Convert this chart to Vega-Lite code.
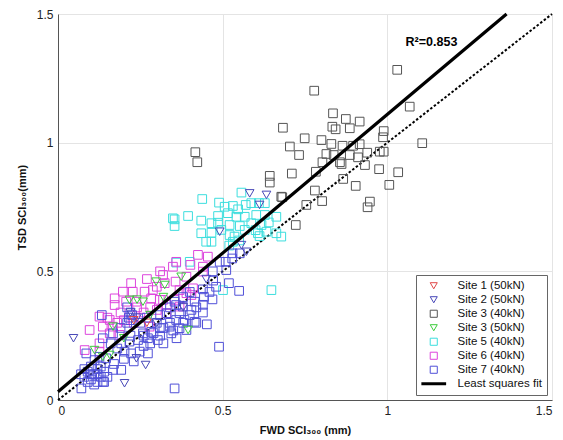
{
  "$schema": "https://vega.github.io/schema/vega-lite/v6.json",
  "width": 494,
  "height": 386,
  "autosize": "none",
  "padding": {"left": 58, "top": 14, "right": 11, "bottom": 40},
  "background": "white",
  "config": {
    "font": "Liberation Sans",
    "view": {"stroke": null},
    "axis": {"grid": true, "gridColor": "#e4e4e4", "gridWidth": 1, "domainColor": "#555555", "ticks": false, "labelFontSize": 12, "labelColor": "#222222", "labelPadding": 5, "titleFontSize": 11, "titleFontWeight": "bold", "titleColor": "#111111"},
    "legend": {"orient": "bottom-right", "offset": 5, "fillColor": "white", "strokeColor": "#666666", "padding": 5, "labelFontSize": 11.5, "labelColor": "#111111", "rowPadding": 1, "symbolSize": 50, "symbolStrokeWidth": 1, "symbolOffset": 7, "labelOffset": 18}
  },
  "datasets": {
    "pts": [
      {"site": "Site 3 (40kN)", "x": 1.030, "y": 1.283}, {"site": "Site 3 (40kN)", "x": 0.778, "y": 1.202}, {"site": "Site 3 (40kN)", "x": 1.068, "y": 1.140}, {"site": "Site 3 (40kN)", "x": 0.835, "y": 1.114}, {"site": "Site 3 (40kN)", "x": 0.874, "y": 1.092}, {"site": "Site 3 (40kN)", "x": 0.916, "y": 1.082}, {"site": "Site 3 (40kN)", "x": 0.683, "y": 1.058}, {"site": "Site 3 (40kN)", "x": 0.833, "y": 1.062}, {"site": "Site 3 (40kN)", "x": 0.843, "y": 1.052}, {"site": "Site 3 (40kN)", "x": 0.886, "y": 1.056}, {"site": "Site 3 (40kN)", "x": 0.989, "y": 1.045}, {"site": "Site 3 (40kN)", "x": 0.987, "y": 1.021}, {"site": "Site 3 (40kN)", "x": 0.749, "y": 1.017}, {"site": "Site 3 (40kN)", "x": 0.800, "y": 1.010}, {"site": "Site 3 (40kN)", "x": 0.830, "y": 0.995}, {"site": "Site 3 (40kN)", "x": 0.864, "y": 0.988}, {"site": "Site 3 (40kN)", "x": 0.896, "y": 0.988}, {"site": "Site 3 (40kN)", "x": 0.916, "y": 0.994}, {"site": "Site 3 (40kN)", "x": 1.106, "y": 0.998}, {"site": "Site 3 (40kN)", "x": 0.704, "y": 0.985}, {"site": "Site 3 (40kN)", "x": 0.732, "y": 0.952}, {"site": "Site 3 (40kN)", "x": 0.815, "y": 0.956}, {"site": "Site 3 (40kN)", "x": 0.837, "y": 0.952}, {"site": "Site 3 (40kN)", "x": 0.886, "y": 0.952}, {"site": "Site 3 (40kN)", "x": 0.911, "y": 0.943}, {"site": "Site 3 (40kN)", "x": 0.939, "y": 0.961}, {"site": "Site 3 (40kN)", "x": 0.977, "y": 0.965}, {"site": "Site 3 (40kN)", "x": 0.989, "y": 0.965}, {"site": "Site 3 (40kN)", "x": 0.803, "y": 0.924}, {"site": "Site 3 (40kN)", "x": 0.856, "y": 0.924}, {"site": "Site 3 (40kN)", "x": 0.861, "y": 0.917}, {"site": "Site 3 (40kN)", "x": 0.932, "y": 0.913}, {"site": "Site 3 (40kN)", "x": 0.783, "y": 0.887}, {"site": "Site 3 (40kN)", "x": 0.975, "y": 0.897}, {"site": "Site 3 (40kN)", "x": 1.033, "y": 0.885}, {"site": "Site 3 (40kN)", "x": 0.710, "y": 0.880}, {"site": "Site 3 (40kN)", "x": 0.866, "y": 0.859}, {"site": "Site 3 (40kN)", "x": 0.904, "y": 0.832}, {"site": "Site 3 (40kN)", "x": 1.006, "y": 0.836}, {"site": "Site 3 (40kN)", "x": 0.780, "y": 0.814}, {"site": "Site 3 (40kN)", "x": 0.802, "y": 0.773}, {"site": "Site 3 (40kN)", "x": 0.947, "y": 0.771}, {"site": "Site 3 (40kN)", "x": 0.940, "y": 0.749}, {"site": "Site 3 (40kN)", "x": 0.754, "y": 0.758}, {"site": "Site 3 (40kN)", "x": 0.678, "y": 0.790}, {"site": "Site 3 (40kN)", "x": 0.417, "y": 0.963}, {"site": "Site 3 (40kN)", "x": 0.423, "y": 0.924}, {"site": "Site 3 (40kN)", "x": 0.643, "y": 0.871}, {"site": "Site 3 (40kN)", "x": 0.643, "y": 0.845}, {"site": "Site 3 (40kN)", "x": 0.681, "y": 0.788}, {"site": "Site 3 (40kN)", "x": 0.722, "y": 0.680},

      {"site": "Site 5 (40kN)", "x": 0.438, "y": 0.781}, {"site": "Site 5 (40kN)", "x": 0.557, "y": 0.806}, {"site": "Site 5 (40kN)", "x": 0.489, "y": 0.767}, {"site": "Site 5 (40kN)", "x": 0.506, "y": 0.751}, {"site": "Site 5 (40kN)", "x": 0.531, "y": 0.754}, {"site": "Site 5 (40kN)", "x": 0.547, "y": 0.741}, {"site": "Site 5 (40kN)", "x": 0.570, "y": 0.758}, {"site": "Site 5 (40kN)", "x": 0.587, "y": 0.765}, {"site": "Site 5 (40kN)", "x": 0.610, "y": 0.765}, {"site": "Site 5 (40kN)", "x": 0.628, "y": 0.765}, {"site": "Site 5 (40kN)", "x": 0.395, "y": 0.715}, {"site": "Site 5 (40kN)", "x": 0.354, "y": 0.702}, {"site": "Site 5 (40kN)", "x": 0.354, "y": 0.676}, {"site": "Site 5 (40kN)", "x": 0.435, "y": 0.697}, {"site": "Site 5 (40kN)", "x": 0.466, "y": 0.687}, {"site": "Site 5 (40kN)", "x": 0.486, "y": 0.715}, {"site": "Site 5 (40kN)", "x": 0.516, "y": 0.726}, {"site": "Site 5 (40kN)", "x": 0.542, "y": 0.712}, {"site": "Site 5 (40kN)", "x": 0.567, "y": 0.712}, {"site": "Site 5 (40kN)", "x": 0.602, "y": 0.719}, {"site": "Site 5 (40kN)", "x": 0.628, "y": 0.719}, {"site": "Site 5 (40kN)", "x": 0.663, "y": 0.712}, {"site": "Site 5 (40kN)", "x": 0.486, "y": 0.689}, {"site": "Site 5 (40kN)", "x": 0.521, "y": 0.680}, {"site": "Site 5 (40kN)", "x": 0.552, "y": 0.676}, {"site": "Site 5 (40kN)", "x": 0.587, "y": 0.687}, {"site": "Site 5 (40kN)", "x": 0.618, "y": 0.680}, {"site": "Site 5 (40kN)", "x": 0.435, "y": 0.648}, {"site": "Site 5 (40kN)", "x": 0.466, "y": 0.650}, {"site": "Site 5 (40kN)", "x": 0.496, "y": 0.661}, {"site": "Site 5 (40kN)", "x": 0.521, "y": 0.641}, {"site": "Site 5 (40kN)", "x": 0.567, "y": 0.661}, {"site": "Site 5 (40kN)", "x": 0.607, "y": 0.648}, {"site": "Site 5 (40kN)", "x": 0.633, "y": 0.654}, {"site": "Site 5 (40kN)", "x": 0.663, "y": 0.648}, {"site": "Site 5 (40kN)", "x": 0.678, "y": 0.635}, {"site": "Site 5 (40kN)", "x": 0.450, "y": 0.615}, {"site": "Site 5 (40kN)", "x": 0.466, "y": 0.615}, {"site": "Site 5 (40kN)", "x": 0.536, "y": 0.635}, {"site": "Site 5 (40kN)", "x": 0.612, "y": 0.637}, {"site": "Site 5 (40kN)", "x": 0.359, "y": 0.534}, {"site": "Site 5 (40kN)", "x": 0.400, "y": 0.537}, {"site": "Site 5 (40kN)", "x": 0.501, "y": 0.427}, {"site": "Site 5 (40kN)", "x": 0.648, "y": 0.427}, {"site": "Site 5 (40kN)", "x": 0.531, "y": 0.615}, {"site": "Site 5 (40kN)", "x": 0.349, "y": 0.706}, {"site": "Site 5 (40kN)", "x": 0.520, "y": 0.600}, {"site": "Site 5 (40kN)", "x": 0.550, "y": 0.620}, {"site": "Site 5 (40kN)", "x": 0.600, "y": 0.660}, {"site": "Site 5 (40kN)", "x": 0.640, "y": 0.690},

      {"site": "Site 6 (40kN)", "x": 0.425, "y": 0.564}, {"site": "Site 6 (40kN)", "x": 0.455, "y": 0.557}, {"site": "Site 6 (40kN)", "x": 0.359, "y": 0.537}, {"site": "Site 6 (40kN)", "x": 0.402, "y": 0.525}, {"site": "Site 6 (40kN)", "x": 0.349, "y": 0.518}, {"site": "Site 6 (40kN)", "x": 0.440, "y": 0.518}, {"site": "Site 6 (40kN)", "x": 0.440, "y": 0.499}, {"site": "Site 6 (40kN)", "x": 0.319, "y": 0.486}, {"site": "Site 6 (40kN)", "x": 0.357, "y": 0.460}, {"site": "Site 6 (40kN)", "x": 0.390, "y": 0.479}, {"site": "Site 6 (40kN)", "x": 0.324, "y": 0.454}, {"site": "Site 6 (40kN)", "x": 0.222, "y": 0.454}, {"site": "Site 6 (40kN)", "x": 0.227, "y": 0.421}, {"site": "Site 6 (40kN)", "x": 0.197, "y": 0.421}, {"site": "Site 6 (40kN)", "x": 0.263, "y": 0.421}, {"site": "Site 6 (40kN)", "x": 0.288, "y": 0.427}, {"site": "Site 6 (40kN)", "x": 0.369, "y": 0.427}, {"site": "Site 6 (40kN)", "x": 0.390, "y": 0.415}, {"site": "Site 6 (40kN)", "x": 0.410, "y": 0.434}, {"site": "Site 6 (40kN)", "x": 0.207, "y": 0.382}, {"site": "Site 6 (40kN)", "x": 0.238, "y": 0.382}, {"site": "Site 6 (40kN)", "x": 0.283, "y": 0.395}, {"site": "Site 6 (40kN)", "x": 0.319, "y": 0.389}, {"site": "Site 6 (40kN)", "x": 0.354, "y": 0.389}, {"site": "Site 6 (40kN)", "x": 0.172, "y": 0.395}, {"site": "Site 6 (40kN)", "x": 0.172, "y": 0.369}, {"site": "Site 6 (40kN)", "x": 0.136, "y": 0.285}, {"site": "Site 6 (40kN)", "x": 0.167, "y": 0.285}, {"site": "Site 6 (40kN)", "x": 0.157, "y": 0.259}, {"site": "Site 6 (40kN)", "x": 0.187, "y": 0.253}, {"site": "Site 6 (40kN)", "x": 0.081, "y": 0.194}, {"site": "Site 6 (40kN)", "x": 0.126, "y": 0.220}, {"site": "Site 6 (40kN)", "x": 0.126, "y": 0.188}, {"site": "Site 6 (40kN)", "x": 0.190, "y": 0.340}, {"site": "Site 6 (40kN)", "x": 0.240, "y": 0.360}, {"site": "Site 6 (40kN)", "x": 0.260, "y": 0.340}, {"site": "Site 6 (40kN)", "x": 0.200, "y": 0.310}, {"site": "Site 6 (40kN)", "x": 0.230, "y": 0.300}, {"site": "Site 6 (40kN)", "x": 0.280, "y": 0.360}, {"site": "Site 6 (40kN)", "x": 0.300, "y": 0.350}, {"site": "Site 6 (40kN)", "x": 0.330, "y": 0.370}, {"site": "Site 6 (40kN)", "x": 0.150, "y": 0.320}, {"site": "Site 6 (40kN)", "x": 0.180, "y": 0.300}, {"site": "Site 6 (40kN)", "x": 0.250, "y": 0.320}, {"site": "Site 6 (40kN)", "x": 0.126, "y": 0.324}, {"site": "Site 6 (40kN)", "x": 0.157, "y": 0.311}, {"site": "Site 6 (40kN)", "x": 0.278, "y": 0.285}, {"site": "Site 6 (40kN)", "x": 0.329, "y": 0.337}, {"site": "Site 6 (40kN)", "x": 0.369, "y": 0.363}, {"site": "Site 6 (40kN)", "x": 0.405, "y": 0.408}, {"site": "Site 6 (40kN)", "x": 0.096, "y": 0.272}, {"site": "Site 6 (40kN)", "x": 0.309, "y": 0.389}, {"site": "Site 6 (40kN)", "x": 0.300, "y": 0.440}, {"site": "Site 6 (40kN)", "x": 0.270, "y": 0.470}, {"site": "Site 6 (40kN)", "x": 0.310, "y": 0.500},

      {"site": "Site 7 (40kN)", "x": 0.519, "y": 0.454}, {"site": "Site 7 (40kN)", "x": 0.550, "y": 0.424}, {"site": "Site 7 (40kN)", "x": 0.471, "y": 0.464}, {"site": "Site 7 (40kN)", "x": 0.469, "y": 0.391}, {"site": "Site 7 (40kN)", "x": 0.443, "y": 0.401}, {"site": "Site 7 (40kN)", "x": 0.415, "y": 0.382}, {"site": "Site 7 (40kN)", "x": 0.405, "y": 0.350}, {"site": "Site 7 (40kN)", "x": 0.415, "y": 0.304}, {"site": "Site 7 (40kN)", "x": 0.384, "y": 0.311}, {"site": "Site 7 (40kN)", "x": 0.359, "y": 0.311}, {"site": "Site 7 (40kN)", "x": 0.369, "y": 0.337}, {"site": "Site 7 (40kN)", "x": 0.379, "y": 0.363}, {"site": "Site 7 (40kN)", "x": 0.452, "y": 0.294}, {"site": "Site 7 (40kN)", "x": 0.489, "y": 0.207}, {"site": "Site 7 (40kN)", "x": 0.354, "y": 0.382}, {"site": "Site 7 (40kN)", "x": 0.344, "y": 0.259}, {"site": "Site 7 (40kN)", "x": 0.133, "y": 0.330}, {"site": "Site 7 (40kN)", "x": 0.354, "y": 0.045}, {"site": "Site 7 (40kN)", "x": 0.071, "y": 0.045}, {"site": "Site 7 (40kN)", "x": 0.086, "y": 0.181}, {"site": "Site 7 (40kN)", "x": 0.111, "y": 0.155}, {"site": "Site 7 (40kN)", "x": 0.126, "y": 0.168}, {"site": "Site 7 (40kN)", "x": 0.146, "y": 0.162}, {"site": "Site 7 (40kN)", "x": 0.167, "y": 0.117}, {"site": "Site 7 (40kN)", "x": 0.192, "y": 0.117}, {"site": "Site 7 (40kN)", "x": 0.136, "y": 0.071}, {"site": "Site 7 (40kN)", "x": 0.202, "y": 0.188}, {"site": "Site 7 (40kN)", "x": 0.222, "y": 0.181}, {"site": "Site 7 (40kN)", "x": 0.248, "y": 0.188}, {"site": "Site 7 (40kN)", "x": 0.273, "y": 0.181}, {"site": "Site 7 (40kN)", "x": 0.136, "y": 0.240}, {"site": "Site 7 (40kN)", "x": 0.167, "y": 0.259}, {"site": "Site 7 (40kN)", "x": 0.192, "y": 0.220}, {"site": "Site 7 (40kN)", "x": 0.217, "y": 0.227}, {"site": "Site 7 (40kN)", "x": 0.243, "y": 0.233}, {"site": "Site 7 (40kN)", "x": 0.273, "y": 0.240}, {"site": "Site 7 (40kN)", "x": 0.303, "y": 0.233}, {"site": "Site 7 (40kN)", "x": 0.309, "y": 0.279}, {"site": "Site 7 (40kN)", "x": 0.339, "y": 0.285}, {"site": "Site 7 (40kN)", "x": 0.369, "y": 0.279}, {"site": "Site 7 (40kN)", "x": 0.390, "y": 0.272}, {"site": "Site 7 (40kN)", "x": 0.258, "y": 0.259}, {"site": "Site 7 (40kN)", "x": 0.283, "y": 0.265}, {"site": "Site 7 (40kN)", "x": 0.330, "y": 0.337}, {"site": "Site 7 (40kN)", "x": 0.359, "y": 0.369}, {"site": "Site 7 (40kN)", "x": 0.509, "y": 0.537}, {"site": "Site 7 (40kN)", "x": 0.491, "y": 0.537}, {"site": "Site 7 (40kN)", "x": 0.529, "y": 0.550}, {"site": "Site 7 (40kN)", "x": 0.552, "y": 0.570}, {"site": "Site 7 (40kN)", "x": 0.511, "y": 0.505}, {"site": "Site 7 (40kN)", "x": 0.530, "y": 0.570}, {"site": "Site 7 (40kN)", "x": 0.080, "y": 0.090}, {"site": "Site 7 (40kN)", "x": 0.090, "y": 0.110}, {"site": "Site 7 (40kN)", "x": 0.100, "y": 0.080}, {"site": "Site 7 (40kN)", "x": 0.110, "y": 0.100}, {"site": "Site 7 (40kN)", "x": 0.120, "y": 0.120}, {"site": "Site 7 (40kN)", "x": 0.100, "y": 0.130}, {"site": "Site 7 (40kN)", "x": 0.130, "y": 0.090}, {"site": "Site 7 (40kN)", "x": 0.090, "y": 0.070}, {"site": "Site 7 (40kN)", "x": 0.120, "y": 0.070}, {"site": "Site 7 (40kN)", "x": 0.140, "y": 0.110}, {"site": "Site 7 (40kN)", "x": 0.110, "y": 0.060}, {"site": "Site 7 (40kN)", "x": 0.080, "y": 0.120}, {"site": "Site 7 (40kN)", "x": 0.130, "y": 0.130}, {"site": "Site 7 (40kN)", "x": 0.150, "y": 0.090}, {"site": "Site 7 (40kN)", "x": 0.100, "y": 0.100}, {"site": "Site 7 (40kN)", "x": 0.120, "y": 0.100}, {"site": "Site 7 (40kN)", "x": 0.070, "y": 0.100}, {"site": "Site 7 (40kN)", "x": 0.140, "y": 0.070}, {"site": "Site 7 (40kN)", "x": 0.210, "y": 0.300}, {"site": "Site 7 (40kN)", "x": 0.215, "y": 0.320}, {"site": "Site 7 (40kN)", "x": 0.220, "y": 0.340}, {"site": "Site 7 (40kN)", "x": 0.210, "y": 0.360}, {"site": "Site 7 (40kN)", "x": 0.220, "y": 0.310}, {"site": "Site 7 (40kN)", "x": 0.225, "y": 0.330}, {"site": "Site 7 (40kN)", "x": 0.250, "y": 0.300}, {"site": "Site 7 (40kN)", "x": 0.270, "y": 0.320}, {"site": "Site 7 (40kN)", "x": 0.300, "y": 0.300}, {"site": "Site 7 (40kN)", "x": 0.320, "y": 0.280}, {"site": "Site 7 (40kN)", "x": 0.290, "y": 0.260}, {"site": "Site 7 (40kN)", "x": 0.260, "y": 0.250}, {"site": "Site 7 (40kN)", "x": 0.310, "y": 0.250}, {"site": "Site 7 (40kN)", "x": 0.340, "y": 0.300}, {"site": "Site 7 (40kN)", "x": 0.350, "y": 0.270}, {"site": "Site 7 (40kN)", "x": 0.280, "y": 0.220}, {"site": "Site 7 (40kN)", "x": 0.320, "y": 0.220}, {"site": "Site 7 (40kN)", "x": 0.360, "y": 0.240}, {"site": "Site 7 (40kN)", "x": 0.380, "y": 0.300}, {"site": "Site 7 (40kN)", "x": 0.400, "y": 0.330}, {"site": "Site 7 (40kN)", "x": 0.420, "y": 0.360}, {"site": "Site 7 (40kN)", "x": 0.440, "y": 0.370}, {"site": "Site 7 (40kN)", "x": 0.460, "y": 0.420}, {"site": "Site 7 (40kN)", "x": 0.480, "y": 0.440}, {"site": "Site 7 (40kN)", "x": 0.470, "y": 0.500}, {"site": "Site 7 (40kN)", "x": 0.440, "y": 0.430}, {"site": "Site 7 (40kN)", "x": 0.400, "y": 0.420}, {"site": "Site 7 (40kN)", "x": 0.380, "y": 0.400}, {"site": "Site 7 (40kN)", "x": 0.340, "y": 0.360}, {"site": "Site 7 (40kN)", "x": 0.310, "y": 0.330}, {"site": "Site 7 (40kN)", "x": 0.180, "y": 0.200}, {"site": "Site 7 (40kN)", "x": 0.160, "y": 0.220}, {"site": "Site 7 (40kN)", "x": 0.200, "y": 0.160}, {"site": "Site 7 (40kN)", "x": 0.230, "y": 0.150}, {"site": "Site 7 (40kN)", "x": 0.170, "y": 0.140}, {"site": "Site 7 (40kN)", "x": 0.260, "y": 0.210}, {"site": "Site 7 (40kN)", "x": 0.220, "y": 0.250}, {"site": "Site 7 (40kN)", "x": 0.190, "y": 0.280}, {"site": "Site 7 (40kN)", "x": 0.420, "y": 0.300}, {"site": "Site 7 (40kN)", "x": 0.440, "y": 0.340},

      {"site": "Site 2 (50kN)", "x": 0.047, "y": 0.240}, {"site": "Site 2 (50kN)", "x": 0.202, "y": 0.065}, {"site": "Site 2 (50kN)", "x": 0.266, "y": 0.136}, {"site": "Site 2 (50kN)", "x": 0.238, "y": 0.162}, {"site": "Site 2 (50kN)", "x": 0.582, "y": 0.803}, {"site": "Site 2 (50kN)", "x": 0.633, "y": 0.797}, {"site": "Site 2 (50kN)", "x": 0.612, "y": 0.758}, {"site": "Site 2 (50kN)", "x": 0.491, "y": 0.654}, {"site": "Site 2 (50kN)", "x": 0.557, "y": 0.602}, {"site": "Site 2 (50kN)", "x": 0.572, "y": 0.576}, {"site": "Site 2 (50kN)", "x": 0.220, "y": 0.340}, {"site": "Site 2 (50kN)", "x": 0.240, "y": 0.320}, {"site": "Site 2 (50kN)", "x": 0.300, "y": 0.300}, {"site": "Site 2 (50kN)", "x": 0.380, "y": 0.360}, {"site": "Site 2 (50kN)", "x": 0.450, "y": 0.470},

      {"site": "Site 3 (50kN)", "x": 0.298, "y": 0.460}, {"site": "Site 3 (50kN)", "x": 0.324, "y": 0.447}, {"site": "Site 3 (50kN)", "x": 0.374, "y": 0.479}, {"site": "Site 3 (50kN)", "x": 0.217, "y": 0.389}, {"site": "Site 3 (50kN)", "x": 0.258, "y": 0.382}, {"site": "Site 3 (50kN)", "x": 0.167, "y": 0.285}, {"site": "Site 3 (50kN)", "x": 0.111, "y": 0.194}, {"site": "Site 3 (50kN)", "x": 0.157, "y": 0.175}, {"site": "Site 3 (50kN)", "x": 0.136, "y": 0.168}, {"site": "Site 3 (50kN)", "x": 0.395, "y": 0.272}, {"site": "Site 3 (50kN)", "x": 0.280, "y": 0.330}, {"site": "Site 3 (50kN)", "x": 0.200, "y": 0.240}, {"site": "Site 3 (50kN)", "x": 0.320, "y": 0.400}, {"site": "Site 3 (50kN)", "x": 0.240, "y": 0.390},

      {"site": "Site 1 (50kN)", "x": 0.230, "y": 0.310}, {"site": "Site 1 (50kN)", "x": 0.270, "y": 0.300}
    ],
    "fit": [
      {"site": "Least squares fit", "x": 0, "y": 0.032},
      {"site": "Least squares fit", "x": 1.362, "y": 1.5}
    ],
    "oneone": [
      {"x": 0, "y": 0},
      {"x": 1.5, "y": 1.5}
    ],
    "r2": [
      {"x": 1.134, "y": 1.392, "label": "R²=0.853"}
    ]
  },
  "layer": [
    {
      "data": {"name": "oneone"},
      "mark": {"type": "line", "color": "#000000", "strokeWidth": 2, "strokeDash": [2.5, 2]},
      "encoding": {
        "x": {"field": "x", "type": "quantitative", "scale": {"domain": [0, 1.5], "nice": false}, "axis": {"values": [0, 0.5, 1, 1.5], "format": "~g", "title": "FWD SCI₃₀₀ (mm)", "titlePadding": 8}},
        "y": {"field": "y", "type": "quantitative", "scale": {"domain": [0, 1.5], "nice": false}, "axis": {"values": [0, 0.5, 1, 1.5], "format": "~g", "title": "TSD SCI₃₀₀(mm)", "titlePadding": 9}}
      }
    },
    {
      "data": {"name": "pts"},
      "mark": {"type": "point", "filled": false, "strokeWidth": 1, "opacity": 1, "size": 75},
      "encoding": {
        "x": {"field": "x", "type": "quantitative"},
        "y": {"field": "y", "type": "quantitative"},
        "color": {"field": "site", "type": "nominal", "scale": {"domain": ["Site 1 (50kN)", "Site 2 (50kN)", "Site 3 (40kN)", "Site 3 (50kN)", "Site 5 (40kN)", "Site 6 (40kN)", "Site 7 (40kN)", "Least squares fit"], "range": ["#e04848", "#4848b8", "#555555", "#3ccc3c", "#3cdede", "#dd44dd", "#5050d8", "#000000"]}, "legend": {"title": null, "encode": {"symbols": {"update": {"strokeWidth": {"signal": "datum.value === 'Least squares fit' ? 3 : 1"}}}}}},
        "shape": {"field": "site", "type": "nominal", "scale": {"domain": ["Site 1 (50kN)", "Site 2 (50kN)", "Site 3 (40kN)", "Site 3 (50kN)", "Site 5 (40kN)", "Site 6 (40kN)", "Site 7 (40kN)", "Least squares fit"], "range": ["triangle-down", "triangle-down", "square", "triangle-down", "square", "square", "square", "M-3.5,0H3.5"]}, "legend": {"title": null}}
      }
    },
    {
      "data": {"name": "fit"},
      "mark": {"type": "line", "strokeWidth": 3.2},
      "encoding": {
        "x": {"field": "x", "type": "quantitative"},
        "y": {"field": "y", "type": "quantitative"},
        "color": {"field": "site", "type": "nominal", "legend": {"title": null, "encode": {"symbols": {"update": {"strokeWidth": {"signal": "datum.value === 'Least squares fit' ? 3 : 1"}}}}}}
      }
    },
    {
      "data": {"name": "r2"},
      "mark": {"type": "text", "fontWeight": "bold", "fontSize": 12.5, "color": "#000000"},
      "encoding": {
        "x": {"field": "x", "type": "quantitative"},
        "y": {"field": "y", "type": "quantitative"},
        "text": {"field": "label"}
      }
    }
  ]
}
